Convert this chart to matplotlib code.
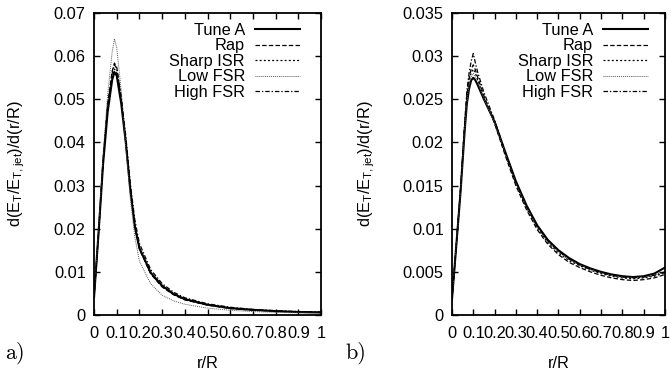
#!/usr/bin/python

import numpy as np
import matplotlib as mplt
import matplotlib.pyplot as plt
from matplotlib.ticker import FuncFormatter

mplt.use('Agg')

plt.rcParams['font.family'] = ['Liberation Sans', 'DejaVu Sans']
plt.rcParams['mathtext.default'] = 'regular'
plt.rcParams['lines.scale_dashes'] = False

# series names, same order in both panels
labels = ['Tune A', 'Rap', 'Sharp ISR', 'Low FSR', 'High FSR']

# panel a) values
r_a = [0, 0.02, 0.04, 0.06, 0.08, 0.09, 0.10, 0.12, 0.14, 0.16, 0.18, 0.20,
       0.25, 0.30, 0.35, 0.40, 0.5, 0.6, 0.7, 0.8, 0.9, 1.0]
tune_a_a = [0.004, 0.019, 0.035, 0.047, 0.0545, 0.0563, 0.0555, 0.049, 0.040, 0.029, 0.0205, 0.0155,
            0.0098, 0.0068, 0.0049, 0.0037, 0.0024, 0.0016, 0.0012, 0.0009, 0.0007, 0.0006]
rap_a = [0.004, 0.019, 0.036, 0.049, 0.0565, 0.0584, 0.0575, 0.050, 0.040, 0.029, 0.0205, 0.0153,
         0.0095, 0.0065, 0.0047, 0.0035, 0.0023, 0.0015, 0.0011, 0.0009, 0.0007, 0.0006]
sharp_isr_a = [0.004, 0.019, 0.0355, 0.048, 0.0552, 0.0570, 0.0562, 0.0495, 0.040, 0.029, 0.0205, 0.0154,
               0.0096, 0.0066, 0.0048, 0.0036, 0.0023, 0.0016, 0.0012, 0.0009, 0.0007, 0.0006]
low_fsr_a = [0.004, 0.020, 0.037, 0.051, 0.061, 0.064, 0.062, 0.052, 0.039, 0.027, 0.018, 0.0125,
             0.0072, 0.0046, 0.0033, 0.0025, 0.0016, 0.0011, 0.0008, 0.0006, 0.0005, 0.0004]
high_fsr_a = [0.004, 0.019, 0.0355, 0.0485, 0.056, 0.058, 0.0572, 0.0505, 0.0415, 0.0305, 0.0220, 0.0166,
              0.0105, 0.0073, 0.0053, 0.0040, 0.0026, 0.0018, 0.0013, 0.0010, 0.0008, 0.0007]

# panel b)
r_b = [0, 0.02, 0.04, 0.06, 0.07, 0.08, 0.09, 0.10, 0.11, 0.12, 0.15, 0.2, 0.25, 0.3,
       0.35, 0.4, 0.45, 0.5, 0.55, 0.6, 0.65, 0.7, 0.75, 0.8, 0.85, 0.9, 0.95, 1.0]
tune_a_b = [0.0018, 0.008, 0.0142, 0.0215, 0.0245, 0.0262, 0.0272, 0.0275, 0.0272, 0.0267, 0.0250, 0.0224,
            0.0189, 0.0155, 0.0127, 0.0104, 0.0087, 0.0075, 0.0066, 0.0059, 0.0054, 0.0050, 0.0047,
            0.0045, 0.0044, 0.0045, 0.0048, 0.0055]
rap_b = [0.0018, 0.008, 0.0145, 0.0222, 0.0255, 0.0274, 0.0285, 0.0290, 0.0284, 0.0276, 0.0254, 0.0222,
         0.0185, 0.0150, 0.0122, 0.0099, 0.0082, 0.0070, 0.0061, 0.0055, 0.0050, 0.0046, 0.0043,
         0.0041, 0.0040, 0.0041, 0.0043, 0.0047]
sharp_isr_b = [0.0018, 0.008, 0.0144, 0.0219, 0.0251, 0.0270, 0.0281, 0.0285, 0.0280, 0.0273, 0.0252, 0.0223,
               0.0187, 0.0152, 0.0124, 0.0101, 0.0084, 0.0072, 0.0063, 0.0057, 0.0052, 0.0048, 0.0045,
               0.0043, 0.0042, 0.0043, 0.0045, 0.0049]
low_fsr_b = [0.0018, 0.008, 0.0143, 0.0217, 0.0248, 0.0266, 0.0276, 0.0280, 0.0276, 0.0270, 0.0251, 0.0223,
             0.0188, 0.0153, 0.0125, 0.0102, 0.0085, 0.0073, 0.0064, 0.0058, 0.0053, 0.0049, 0.0046,
             0.0044, 0.0043, 0.0044, 0.0046, 0.0050]
high_fsr_b = [0.0018, 0.008, 0.0146, 0.0225, 0.0260, 0.0280, 0.0294, 0.0303, 0.0292, 0.0282, 0.0258, 0.0226,
              0.0189, 0.0154, 0.0126, 0.0103, 0.0086, 0.0074, 0.0065, 0.0058, 0.0053, 0.0049, 0.0046,
              0.0044, 0.0043, 0.0044, 0.0046, 0.0050]

x_ticks = np.round(np.arange(0, 1.01, 0.1), 1)

# gnuplot-ish line styles
styles = [dict(lw=1.5, ls='-'),
          dict(lw=0.9, ls=(0, (3.2, 1.6))),
          dict(lw=0.9, ls=(0, (1.4, 1.6))),
          dict(lw=0.7, ls=(0, (0.7, 0.7)), color='0.35'),
          dict(lw=0.9, ls=(0, (3.2, 1.4, 1.0, 1.4)))]


def draw_panel(ax, r, series, ymax, ystep, leg_x, ylab_x):
    for y, lab, st in zip(series, labels, styles):
        kw = dict(color='black')
        kw.update(st)
        ax.plot(r, y, label=lab, **kw)

    ax.set_xlim(0, 1)
    ax.set_ylim(0, ymax)
    ax.set_xticks(x_ticks)
    ax.set_yticks(np.arange(0, ymax + ystep / 2, ystep))
    ax.xaxis.set_major_formatter(FuncFormatter(lambda v, p: f'{v:g}'))
    ax.yaxis.set_major_formatter(FuncFormatter(lambda v, p: f'{round(v, 4):g}'))
    ax.tick_params(direction='in', length=4.5, width=1.0, top=True, right=True,
                   labelsize=11.8)
    ax.tick_params(axis='x', pad=8)
    ax.tick_params(axis='y', pad=6)
    for s in ax.spines.values():
        s.set_linewidth(1.3)

    ax.set_xlabel('r/R', fontsize=11.8, labelpad=11)
    ax.set_ylabel(r'd(E$_{T}$/E$_{T,jet}$)/d(r/R)', fontsize=11.8)
    ax.yaxis.set_label_coords(ylab_x, 0.5)
    ax.yaxis.label.set_verticalalignment('center')

    ax.legend(loc='upper right', bbox_to_anchor=(leg_x, 0.967), frameon=False,
              markerfirst=False, fontsize=11.8, handlelength=2.75,
              handletextpad=0.6, labelspacing=0.03, borderpad=0, borderaxespad=0)


fig = plt.figure(figsize=(6.71, 3.71), dpi=100)
ax1 = fig.add_axes([0.1401, 0.1509, 0.3383, 0.8140])
ax2 = fig.add_axes([0.6736, 0.1509, 0.3174, 0.8140])

draw_panel(ax1, r_a, [tune_a_a, rap_a, sharp_isr_a, low_fsr_a, high_fsr_a],
           0.07, 0.01, 0.907, -0.339)
draw_panel(ax2, r_b, [tune_a_b, rap_b, sharp_isr_b, low_fsr_b, high_fsr_b],
           0.035, 0.005, 0.92, -0.399)

# panel tags, serif like the TeX caption
fig.text(5 / 671, 1 - 353 / 371, 'a)', fontsize=16, family='cmr10', va='center', ha='left')
fig.text(345 / 671, 1 - 353 / 371, 'b)', fontsize=16, family='cmr10', va='center', ha='left')

fig.savefig('out.png', dpi=100)
